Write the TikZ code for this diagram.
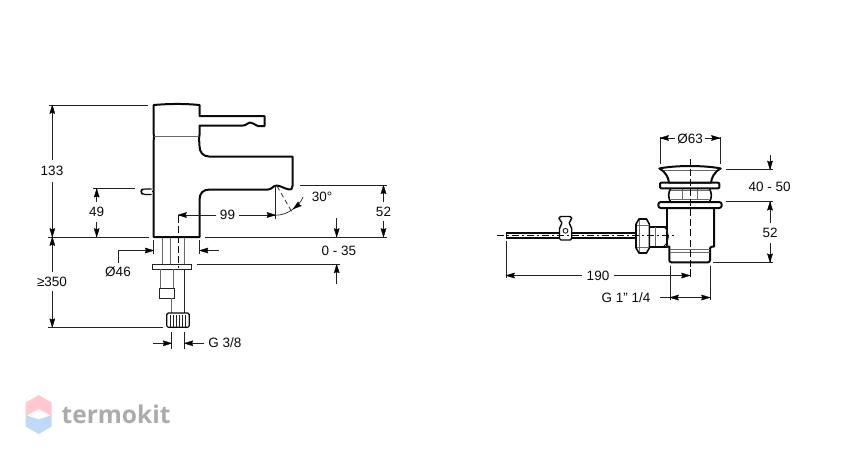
\documentclass[tikz,border=0pt]{standalone}
\usepackage{fontspec}
\setmainfont{Liberation Sans}
\newfontfamily\logofont{Open Sans}
\usetikzlibrary{calc}
\definecolor{ink}{HTML}{0A0A0A}
\definecolor{thinink}{HTML}{222222}
\definecolor{soft}{HTML}{6A6A6A}
\definecolor{logopink}{HTML}{FFC9CF}
\definecolor{logoblue}{HTML}{BFD9F7}
\definecolor{logotext}{HTML}{ABABAB}
\tikzset{
  outline/.style={draw=ink,line width=2pt,line join=round,fill=white},
  thickline/.style={draw=ink,line width=2pt},
  part/.style={draw=soft,line width=1pt},
  ext/.style={draw=thinink,line width=0.7pt},
  axisline/.style={draw=ink,line width=0.8pt,dash pattern=on 7pt off 3pt},
  dimtext/.style={font=\fontsize{13.5}{15}\selectfont,text=ink,inner sep=2.5pt},
  headfill/.style={fill=black,draw=black,line width=0.3pt,line join=round}
}
\newcommand\headat[2]{\path[headfill] (#1) -- ($(#1)!9pt!17:(#2)$) -- ($(#1)!7.5pt!(#2)$) -- ($(#1)!9pt!-17:(#2)$) -- cycle;}
\newcommand\dimarrow[2]{\draw[ext] (#1) -- (#2); \headat{#2}{#1}}
\begin{document}
\begin{tikzpicture}[x=1pt,y=-1pt]
\useasboundingbox (0,0) rectangle (858,459);
% ---------- faucet ----------
\path[outline] (153.7,105) .. controls (170,103.6) and (185,103.6) .. (199.5,105) -- (199.5,116) -- (264.5,116) -- (264.5,126) -- (258,126)
  .. controls (254,124.5) and (253,122.5) .. (250,122.5) .. controls (247,122.5) and (247,125.5) .. (243,125.5) -- (199.5,125.5) -- (199.5,135)
  .. controls (198,137.5) and (199.5,140) .. (199.5,146) .. controls (199.5,152) and (203,156.5) .. (209,156.5) -- (292.5,156.5) -- (292.5,186)
  .. controls (292.5,189) and (291,190) .. (289,189.5) .. controls (283,188) and (280,185.5) .. (276.5,185.5) .. controls (273,185.5) and (272,189.5) .. (268,189.5)
  -- (210,189.5) .. controls (203,189.5) and (199.5,193) .. (199.5,200) -- (199.5,237) -- (153.7,237) -- (153.7,140) .. controls (154.6,137.5) and (153.7,136) .. (153.7,134) -- cycle;
\draw[part] (154,136) -- (199,136);
\draw[outline,line width=1.2pt,rounded corners=2pt] (151.5,189) -- (143,189) -- (141,190) -- (141,193) -- (143,194.5) -- (151.5,194.5);
\draw[thickline,line width=1.2pt] (151.5,191.7) -- (153.7,191.7);
% pipes
\draw[part] (162.3,238) -- (162.3,264);
\draw[part,line width=1.1pt] (170.3,238) -- (170.3,264);
\draw[part] (184.3,238) -- (184.3,264);
\draw[draw=thinink,line width=0.8pt] (152.3,264) rectangle (191.7,269);
\draw[part] (160.3,269) -- (160.3,288);
\draw[part] (173.7,269) -- (173.7,288);
\draw[draw=thinink,line width=0.9pt] (159.3,288) rectangle (174,298);
\draw[part] (171.7,298) -- (171.7,313);
\draw[draw=thinink,line width=1pt] (184.3,269) -- (184.3,313);
\draw[draw=ink,line width=1.2pt,rounded corners=1.5pt,fill=white] (166.7,313) rectangle (189.3,327.3);
\foreach \kx in {170,173,176,179,182,185}{\draw[draw=thinink,line width=0.7pt] (\kx,315) -- (\kx,327);}
\draw[axisline] (178,216) -- (178,268);
% faucet dimensions
\node[dimtext] (t133) at (52,171) {133};
\draw[ext] (49,105) -- (148,105);
\draw[ext] (48,237) -- (149,237);
\draw[ext] (205,237) -- (386.5,237);
\dimarrow{52.3,160}{52.3,105}
\dimarrow{52.3,182}{52.3,237}
\node[dimtext] (t49) at (96.7,212) {49};
\draw[ext] (93,188.7) -- (135,188.7);
\dimarrow{96.7,202}{96.7,188.7}
\dimarrow{96.7,222}{96.7,237}
\node[dimtext] (t99) at (227.5,215) {99};
\dimarrow{216,215}{178,215}
\dimarrow{239,215}{275.5,215}
\draw[ext] (275.8,186) -- (275.8,219);
\draw[ext,dash pattern=on 5pt off 3pt] (277,186) -- (293,214);
\draw[ext] (275.8,215.2) .. controls (282,215.2) and (288,213) .. (293,209);
\draw[ext] (303,197) .. controls (301,202) and (298,205.5) .. (293,209);
\headat{293,209}{299.5,204}
\node[dimtext] (t30) at (322,197) {30°};
\node[dimtext] (t52a) at (383.5,211.5) {52};
\draw[ext] (300,185.2) -- (386.5,185.2);
\dimarrow{383.5,202}{383.5,185.2}
\dimarrow{383.5,221}{383.5,237}
\node[dimtext] (t035) at (339,250.5) {0 - 35};
\dimarrow{336.7,218}{336.7,237}
\dimarrow{336.7,284}{336.7,264.3}
\draw[ext] (197,264.3) -- (340,264.3);
% diameter 46
\node[dimtext] (t46) at (118,272) {Ø46};
\draw[ext] (118,263) -- (118,250.5) -- (153.7,250.5);
\headat{153.7,250.5}{118,250.5}
\dimarrow{219,250.5}{199.5,250.5}
\draw[ext] (153.7,240) -- (153.7,254);
\draw[ext] (199.5,240) -- (199.5,254);
% height 350
\node[dimtext] (t350) at (52,281.5) {≥350};
\dimarrow{52.3,272}{52.3,237}
\dimarrow{52.3,291}{52.3,327.3}
\draw[ext] (48,327.3) -- (163,327.3);
% G 3/8
\node[dimtext] (tg38) at (225,343) {G 3/8};
\draw[ext] (171.7,332) -- (171.7,349);
\draw[ext] (184.3,332) -- (184.3,349);
\dimarrow{153,343.3}{171.7,343.3}
\dimarrow{204,343.3}{184.3,343.3}
% ---------- drain ----------
\draw[axisline] (690,159) -- (690,277.5);
% rod
\draw[thickline] (506,232.6) -- (636,232.6);
\draw[thickline] (506,238) -- (636,238);
\draw[thickline,line width=1pt] (506,232) -- (506,238.6);
% clamp
\draw[outline,line width=1.4pt,rounded corners=1.5pt] (559,216.5) -- (571.7,216.5) -- (571.7,220) -- (569.3,221) -- (569.5,225) -- (571.7,227) -- (571.7,240) -- (559.5,240) -- (559.5,227) -- (561.7,225) -- (561.7,221) -- (559,220) -- cycle;
\draw[draw=ink,line width=0.8pt] (565.5,230.8) circle (2.4pt);
% pipe to body
\draw[outline] (649,226.7) -- (666.5,226.7) -- (666.5,246.5) -- (649,246.5);
\draw[part] (655,227) -- (655,246);
\draw[draw=thinink,line width=0.8pt] (664,227) .. controls (670,232) and (670,241) .. (664,246);
\draw[outline,line width=1.6pt] (636,224) -- (639,219) -- (646.5,219) -- (649.3,224) -- (649.3,248) -- (646.5,253) -- (639,253) -- (636,248) -- cycle;
\draw[part] (639.5,220) -- (639.5,252);
\draw[part] (636.5,225) -- (649,225);
\draw[part] (636.5,247) -- (649,247);
% centre line of rod
\draw[draw=ink,line width=0.8pt,dash pattern=on 7pt off 3pt on 2pt off 3pt] (497,235) -- (675,235);
% body
\draw[thickline] (666.5,208) -- (666.5,227);
\draw[outline] (666.5,246.5) -- (669.3,246.5) -- (669.3,260) [rounded corners=2pt] -- (669.3,262.3) -- (710,262.3) -- (710,246.7) [sharp corners] -- (714,246.7) -- (714,208);
\draw[part] (670,249) -- (710,249);
\draw[part] (670,252) -- (710,252);
\draw[axisline] (690,240) -- (690,277.5);
% neck
\draw[thickline,line width=1.6pt] (670.7,188.3) .. controls (668,193) and (668,198) .. (670.7,202);
\draw[thickline,line width=1.6pt] (709.3,188.3) .. controls (712,193) and (712,198) .. (709.3,202);
\draw[part] (671,199.3) -- (709,199.3);
\draw[part] (682.7,188.5) -- (682.7,199);
\draw[part] (697.3,188.5) -- (697.3,199);
\draw[part] (671,190.5) -- (709,190.5);
% flanges and cap
\draw[outline,rounded corners=2.5pt] (658.3,202) rectangle (721.7,208);
\draw[outline,rounded corners=1pt] (660,182.7) rectangle (719.3,188.3);
\path[outline] (659.3,168.5) .. controls (675,165.2) and (705,165.2) .. (720.7,168.5) .. controls (714,172) and (711.5,178) .. (711,182.7) -- (669,182.7) .. controls (668.5,178) and (666,172) .. (659.3,168.5) -- cycle;
\draw[part] (664,170.5) -- (716,170.5);
\draw[axisline] (690,159) -- (690,236);
% drain dimensions
\node[dimtext] (t63) at (690,139) {Ø63};
\draw[ext] (660,137) -- (660,164);
\draw[ext] (720,137) -- (720,164);
\dimarrow{675,138}{660,138}
\dimarrow{705,138}{720,138}
\node[dimtext] (t4050) at (769.7,187) {40 - 50};
\draw[ext] (726,169.5) -- (773,169.5);
\draw[ext] (726,201.7) -- (773,201.7);
\draw[ext] (713,262.3) -- (773,262.3);
\dimarrow{770,155}{770,169.5}
\node[dimtext] (t52b) at (770,233) {52};
\dimarrow{770,223}{770,201.7}
\dimarrow{770,243}{770,262.3}
\node[dimtext] (t190) at (598,276) {190};
\draw[ext] (506,241) -- (506,278);
\dimarrow{582,275.5}{506,275.5}
\dimarrow{614,275.5}{690,275.5}
\node[dimtext] (tg114) at (626,297.5) {G 1" 1/4};
\draw[ext] (670,266) -- (670,300);
\draw[ext] (710,266) -- (710,300);
\draw[ext] (660,297.5) -- (670,297.5);
\dimarrow{680,297.5}{670,297.5}
\dimarrow{680,297.5}{710,297.5}
% ---------- logo ----------
\fill[logopink] (38.7,395) -- (51.7,402.5) -- (51.7,416) -- (38.7,409) -- (25.7,416) -- (25.7,402.5) -- cycle;
\fill[logoblue] (38.7,434) -- (51.7,426.5) -- (51.7,415) -- (38.7,419.5) -- (25.7,415) -- (25.7,426.5) -- cycle;
\node[font=\logofont\bfseries\fontsize{24.5}{27}\selectfont,text=logotext,anchor=west,inner sep=0pt] (logo) at (61.5,414.5) {termokit};
\end{tikzpicture}
\end{document}
